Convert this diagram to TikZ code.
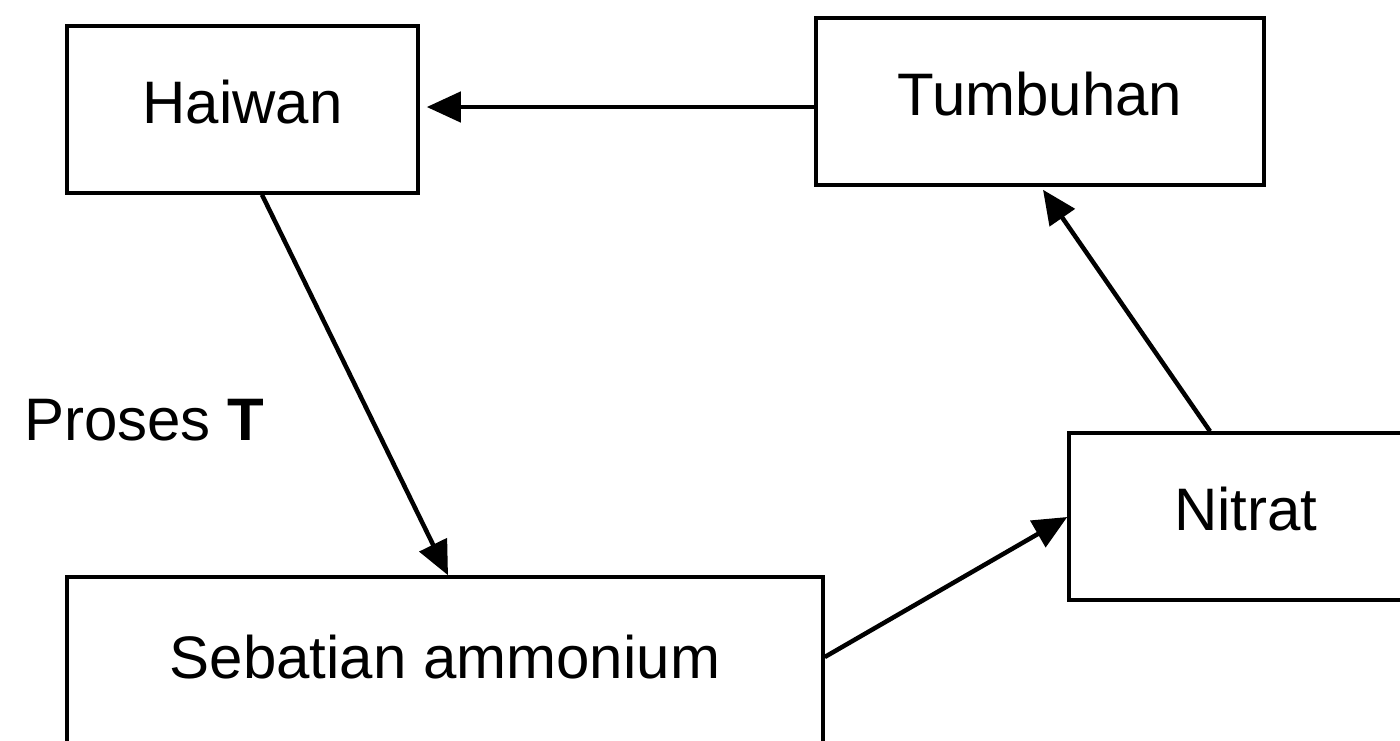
\documentclass[tikz,border=0pt]{standalone}
\usepackage{fontspec}
\setmainfont{Liberation Sans}
\usetikzlibrary{arrows.meta}
\begin{document}
\begin{tikzpicture}[x=1pt,y=-1pt,
  box/.style={draw=black,line width=3.5pt,fill=white,inner sep=0pt,
    minimum height=167pt,text height=42pt,text depth=14pt,
    font=\fontsize{60}{70}\selectfont},
  arr/.style={line width=4.5pt,-{Triangle[length=34pt,width=30pt]}},
  lbl/.style={inner sep=0pt,font=\fontsize{60}{70}\selectfont}]
\useasboundingbox (0,0) rectangle (1400,740);
\clip (0,0) rectangle (1400,740);
\node[box,minimum width=351pt] (haiwan) at (242.5,109.5) {Haiwan};
\node[box,minimum width=448pt] (tumbuhan) at (1040,101.5) {Tumbuhan};
\node[box,minimum width=354pt] (nitrat) at (1246,516.5) {Nitrat};
\node[box,minimum width=756pt,text depth=7pt] (seb) at (445,660.5) {Sebatian ammonium};
\node[lbl,anchor=base west] (proses) at (24,440) {Proses \textbf{T}};
\coordinate (hw) at ([yshift=2.5pt]haiwan.east);
\draw[arr,shorten >=7pt] (tumbuhan.west |- hw) -- (hw);
\draw[arr] ([xshift=19.5pt]haiwan.south) -- ([xshift=3pt]seb.north);
\draw[arr] ([yshift=3.5pt]seb.east) -- ([yshift=-0.5pt]nitrat.west);
\draw[arr] ([xshift=-36pt]nitrat.north) -- ([xshift=3pt,yshift=-3pt]tumbuhan.south);
\end{tikzpicture}
\end{document}
